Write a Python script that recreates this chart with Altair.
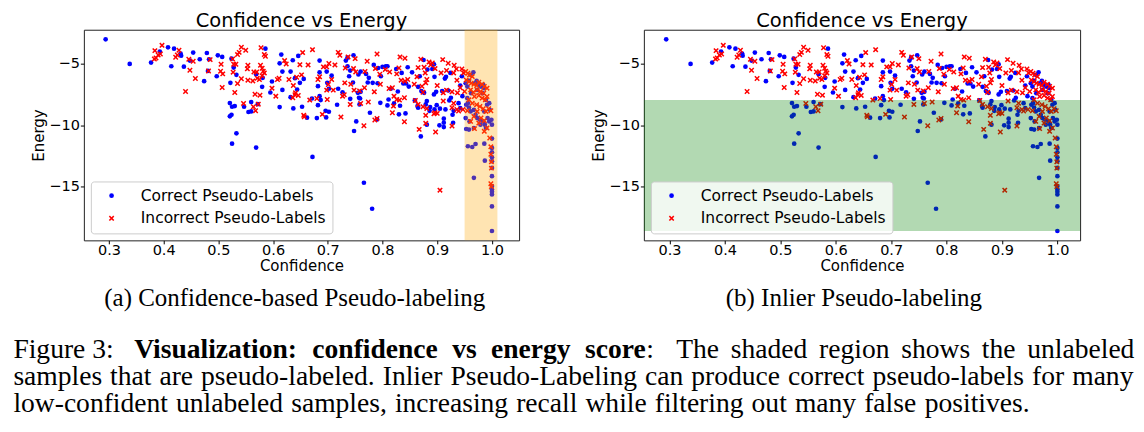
import altair as alt
import pandas as pd

# ---------------- data ----------------
labels = ["Correct Pseudo-Labels", "Incorrect Pseudo-Labels"]

correct_points = [
    (0.294, -3.01), (0.338, -5.01), (0.377, -4.90), (0.393, -4.01), (0.408, -3.66), (0.419, -3.77),
    (0.431, -4.17), (0.432, -4.34), (0.414, -5.20), (0.437, -5.23), (0.448, -4.74), (0.454, -4.09),
    (0.466, -4.63), (0.479, -4.12), (0.483, -4.63), (0.499, -4.31), (0.507, -4.44), (0.474, -6.41),
    (0.481, -5.58), (0.497, -6.01), (0.522, -6.55), (0.528, -5.31), (0.533, -5.90), (0.524, -4.58),
    (0.586, -3.77), (0.569, -5.85), (0.581, -6.14), (0.580, -6.87), (0.595, -7.33), (0.598, -6.44),
    (0.615, -4.25), (0.612, -4.96), (0.617, -5.63), (0.612, -8.52), (0.521, -8.19), (0.525, -8.49),
    (0.530, -8.44), (0.547, -8.49), (0.560, -8.11), (0.572, -8.28), (0.555, -8.92), (0.560, -8.87),
    (0.521, -9.27), (0.524, -9.14), (0.533, -10.65), (0.617, -7.12),
    (0.525, -11.49), (0.569, -11.81), (0.672, -12.57), (0.766, -14.67), (0.781, -16.78),
    (0.646, -4.36), (0.685, -4.74), (0.736, -4.50), (0.747, -4.31), (0.875, -4.69), (0.894, -5.04),
    (0.632, -5.63), (0.636, -4.71), (0.685, -5.69), (0.698, -5.63), (0.707, -5.96), (0.733, -4.74),
    (0.736, -5.20), (0.741, -5.55), (0.756, -5.87), (0.760, -5.63), (0.770, -5.82), (0.784, -5.09),
    (0.792, -5.34), (0.800, -5.25), (0.806, -5.20), (0.809, -5.20), (0.825, -5.42), (0.835, -5.74),
    (0.846, -5.28), (0.854, -5.69), (0.868, -6.01), (0.882, -5.47), (0.891, -5.42), (0.895, -6.06),
    (0.914, -6.20), (0.924, -5.74), (0.945, -6.01),
    (0.640, -6.17), (0.649, -6.55), (0.656, -6.23), (0.644, -7.09), (0.682, -6.82), (0.699, -6.55),
    (0.702, -7.03), (0.719, -7.03), (0.727, -7.31), (0.739, -6.01), (0.746, -6.52), (0.755, -7.36),
    (0.760, -7.28), (0.757, -7.76), (0.775, -6.14), (0.773, -6.52), (0.782, -6.55), (0.791, -6.58),
    (0.797, -6.01), (0.815, -7.03), (0.828, -7.25), (0.838, -6.60), (0.843, -6.60), (0.848, -6.85),
    (0.865, -6.87), (0.871, -7.22), (0.876, -7.36), (0.894, -7.49), (0.898, -7.28), (0.909, -7.22),
    (0.916, -6.06), (0.920, -7.17), (0.942, -6.77), (0.946, -7.63),
    (0.632, -7.71), (0.653, -8.49), (0.637, -8.63), (0.671, -7.82), (0.685, -7.63), (0.682, -8.36),
    (0.687, -7.95), (0.696, -8.82), (0.702, -8.90), (0.717, -8.33), (0.741, -7.85), (0.759, -7.82),
    (0.758, -8.30), (0.777, -8.98), (0.796, -8.17), (0.811, -7.90), (0.809, -8.38), (0.821, -8.22),
    (0.832, -8.41), (0.830, -9.11), (0.842, -9.03), (0.859, -7.98), (0.864, -8.44), (0.865, -8.57),
    (0.879, -8.30), (0.881, -8.03), (0.886, -8.82), (0.887, -8.52), (0.895, -8.71), (0.899, -8.36),
    (0.905, -8.65), (0.915, -8.71), (0.922, -7.98), (0.925, -7.76), (0.930, -8.82), (0.939, -8.20),
    (0.942, -8.60), (0.662, -9.38), (0.680, -9.41), (0.697, -9.36), (0.790, -9.52), (0.928, -9.14),
    (0.912, -9.46), (0.752, -9.68), (0.748, -10.46), (0.929, -9.79), (0.912, -9.79), (0.912, -10.14),
    (0.870, -10.90), (0.881, -9.95), (0.904, -10.00),
    (0.952, -6.58), (0.955, -6.85), (0.958, -6.39), (0.961, -5.90), (0.966, -5.69), (0.969, -6.58),
    (0.972, -6.39), (0.976, -6.71), (0.973, -7.12), (0.980, -6.85), (0.984, -6.71), (0.986, -6.98),
    (0.983, -7.39), (0.989, -7.93), (0.991, -8.33), (0.955, -7.79), (0.956, -8.20), (0.958, -8.55),
    (0.961, -8.87), (0.952, -9.41), (0.967, -8.74), (0.970, -9.14), (0.973, -9.41), (0.978, -9.55),
    (0.984, -9.68), (0.987, -9.95), (0.992, -9.41), (0.995, -9.68), (0.989, -10.22), (0.979, -9.95),
    (0.967, -10.22), (0.958, -10.35), (0.999, -9.55), (1.000, -9.95), (0.953, -8.33), (0.962, -7.39),
    (0.959, -9.68), (0.953, -10.30), (0.996, -8.74), (0.995, -8.20), (0.986, -8.87),
    (0.956, -11.70), (0.964, -11.76), (0.970, -11.52), (0.967, -14.27), (0.986, -11.49), (0.987, -12.87),
    (1.000, -11.08), (1.000, -11.84), (1.000, -12.19), (1.000, -12.60), (1.000, -12.92), (1.000, -13.46),
    (1.000, -14.13), (1.000, -14.94), (1.000, -15.21), (1.000, -15.40), (1.000, -15.62), (1.000, -16.59),
    (1.000, -18.59),
]

incorrect_points = [
    (0.397, -3.50), (0.384, -3.93), (0.394, -4.20), (0.390, -4.28), (0.386, -4.52), (0.383, -4.61),
    (0.428, -3.90), (0.425, -4.28), (0.422, -4.47), (0.440, -7.25), (0.448, -5.52), (0.458, -6.20),
    (0.446, -4.63), (0.454, -4.79), (0.485, -4.66), (0.482, -5.58), (0.505, -5.04), (0.504, -5.60),
    (0.508, -5.82), (0.507, -6.93), (0.526, -4.61), (0.528, -5.04), (0.532, -5.04), (0.535, -4.25),
    (0.538, -4.07), (0.542, -3.66), (0.550, -3.90), (0.527, -5.68), (0.535, -6.60), (0.530, -7.33),
    (0.542, -6.22), (0.554, -5.12), (0.553, -5.41), (0.565, -5.66), (0.570, -5.66), (0.554, -6.33),
    (0.563, -6.39), (0.571, -6.17), (0.578, -3.69), (0.586, -4.39), (0.584, -4.25), (0.577, -5.12),
    (0.580, -5.36), (0.582, -5.60), (0.584, -5.74), (0.580, -5.98), (0.575, -6.28), (0.567, -7.47),
    (0.576, -7.55), (0.605, -7.63), (0.598, -6.98), (0.608, -6.28), (0.611, -6.17), (0.546, -8.22),
    (0.564, -8.49), (0.568, -8.82), (0.573, -8.28),
    (0.654, -4.09), (0.672, -3.85), (0.719, -4.07), (0.722, -4.31), (0.737, -4.44), (0.750, -4.58),
    (0.790, -4.20), (0.832, -4.44), (0.841, -4.55), (0.870, -4.63), (0.885, -4.85), (0.891, -4.93),
    (0.910, -4.66), (0.920, -4.96), (0.931, -5.12),
    (0.621, -4.74), (0.624, -5.01), (0.649, -5.07), (0.664, -5.09), (0.692, -5.25), (0.698, -5.25),
    (0.702, -4.98), (0.713, -5.09), (0.732, -5.34), (0.747, -5.39), (0.751, -5.66), (0.768, -5.63),
    (0.772, -4.79), (0.787, -5.39), (0.795, -5.85), (0.805, -5.47), (0.813, -5.66), (0.830, -5.34),
    (0.826, -5.82), (0.846, -6.28), (0.865, -5.31), (0.876, -5.28), (0.888, -5.09), (0.878, -5.74),
    (0.896, -5.39), (0.907, -5.74), (0.917, -5.55), (0.935, -5.42), (0.930, -5.74), (0.945, -5.42),
    (0.948, -5.74),
    (0.629, -6.28), (0.643, -6.09), (0.652, -5.90), (0.637, -6.77), (0.641, -7.36), (0.640, -7.52),
    (0.636, -7.76), (0.646, -7.57), (0.685, -6.06), (0.682, -6.28), (0.707, -6.28), (0.701, -6.68),
    (0.698, -7.14), (0.710, -7.14), (0.731, -6.55), (0.742, -6.66), (0.748, -7.14), (0.727, -7.63),
    (0.730, -7.52), (0.767, -6.95), (0.785, -7.28), (0.758, -7.20), (0.796, -6.66), (0.818, -6.95),
    (0.812, -7.01), (0.821, -7.63), (0.834, -6.33), (0.841, -6.41), (0.863, -6.06), (0.858, -6.66),
    (0.872, -6.82), (0.879, -6.55), (0.874, -7.31), (0.881, -6.28), (0.900, -6.77), (0.911, -7.36),
    (0.917, -7.14), (0.927, -7.28), (0.937, -7.36), (0.942, -6.95), (0.936, -6.33),
    (0.667, -7.95), (0.680, -7.82), (0.699, -7.90), (0.741, -8.30), (0.760, -8.22), (0.774, -8.11),
    (0.786, -9.57), (0.790, -9.44), (0.818, -8.98), (0.826, -7.90), (0.831, -7.95), (0.840, -7.76),
    (0.820, -8.44), (0.860, -7.98), (0.865, -8.30), (0.874, -8.49), (0.881, -8.63), (0.896, -8.98),
    (0.900, -9.03), (0.911, -8.03), (0.927, -8.57), (0.930, -8.20), (0.936, -8.71), (0.939, -8.84),
    (0.947, -8.71), (0.656, -9.19), (0.657, -9.30), (0.690, -9.11), (0.724, -9.33), (0.879, -9.19),
    (0.894, -9.06), (0.766, -10.03), (0.840, -9.71), (0.867, -10.33), (0.879, -9.84), (0.897, -10.54),
    (0.927, -10.06), (0.905, -15.27),
    (0.952, -5.63), (0.956, -5.77), (0.959, -5.90), (0.964, -6.04), (0.953, -6.31), (0.958, -6.44),
    (0.962, -6.58), (0.967, -6.66), (0.972, -6.77), (0.976, -6.50), (0.982, -6.66), (0.986, -6.85),
    (0.991, -6.98), (0.973, -7.12), (0.979, -7.25), (0.985, -7.39), (0.976, -7.57), (0.982, -7.79),
    (0.988, -7.93), (0.991, -7.66), (0.961, -7.12), (0.966, -7.31), (0.968, -7.66), (0.958, -7.93),
    (0.964, -8.20), (0.972, -8.33), (0.978, -8.47), (0.984, -8.65), (0.989, -8.87), (0.994, -8.65),
    (0.973, -8.87), (0.967, -9.28), (0.980, -9.41), (0.986, -9.63), (0.976, -9.82), (0.991, -10.22),
    (0.968, -10.27), (0.996, -11.03), (0.998, -8.82), (0.986, -10.49), (0.955, -8.82), (0.950, -7.25),
    (0.961, -9.68),
    (0.998, -11.75), (0.998, -12.35), (0.999, -12.97), (0.999, -13.48), (0.998, -14.75), (0.999, -14.97),
]

x_ticks = [0.3, 0.4, 0.5, 0.6, 0.7, 0.8, 0.9, 1.0]
y_ticks = [-15, -10, -5]
band_a_conf = [0.95, 1.01]          # confidence-based region
band_b_energy = [-7.95, -18.6]      # inlier (energy) region

panel_title = "Confidence vs Energy"
subtitle_a = "(a) Confidence-based Pseudo-labeling"
subtitle_b = "(b) Inlier Pseudo-labeling"
caption_line1_bold = ["Visualization:", "confidence", "vs", "energy", "score"]
caption_line1_tail = ["The", "shaded", "region", "shows", "the", "unlabeled"]
caption_line2 = ["samples", "that", "are", "pseudo-labeled.", "Inlier", "Pseudo-Labeling", "can",
                 "produce", "correct", "pseudo-labels", "for", "many"]
caption_line3 = ["low-confident", "unlabeled", "samples,", "increasing", "recall", "while",
                 "filtering", "out", "many", "false", "positives."]

df = pd.DataFrame({
    "Confidence": [p[0] for p in correct_points] + [p[0] for p in incorrect_points],
    "Energy": [p[1] for p in correct_points] + [p[1] for p in incorrect_points],
    "label": [labels[0]] * len(correct_points) + [labels[1]] * len(incorrect_points),
})

# ---------------- styling ----------------
X_PATH = ("M-1,-0.62L-0.62,-1L0,-0.38L0.62,-1L1,-0.62L0.38,0L1,0.62L0.62,1"
          "L0,0.38L-0.62,1L-1,0.62L-0.38,0Z")
PLOT_H = 211
Y_DOM = [-19.35, -2.23]
SANS = "DejaVu Sans"
SERIF = "Liberation Serif"


def make_legend():
    return alt.Legend(
        title=None, orient="bottom-left", offset=7, padding=6.5,
        fillColor="rgba(255,255,255,0.8)", strokeColor="#cccccc", cornerRadius=3,
        labelFont=SANS, labelFontSize=15.5, labelColor="black", labelLimit=400,
        symbolSize=22, symbolStrokeWidth=0, symbolOffset=6.5, labelOffset=21.5,
        rowPadding=5.7,
    )


def scatter(x_dom):
    return alt.Chart(df).mark_point(filled=True, opacity=1).encode(
        x=alt.X("Confidence:Q",
                scale=alt.Scale(domain=x_dom, nice=False, zero=False),
                axis=alt.Axis(values=x_ticks, format=".1f", title="Confidence",
                              labelPadding=0, titlePadding=1)),
        y=alt.Y("Energy:Q",
                scale=alt.Scale(domain=Y_DOM, nice=False, zero=False),
                axis=alt.Axis(values=y_ticks, format="d", title="Energy",
                              labelPadding=1, titlePadding=2.5)),
        color=alt.Color("label:N", scale=alt.Scale(domain=labels, range=["#0000ff", "#ff0000"]),
                        legend=make_legend()),
        shape=alt.Shape("label:N", scale=alt.Scale(domain=labels, range=["circle", X_PATH]),
                        legend=make_legend()),
        size=alt.Size("label:N", scale=alt.Scale(domain=labels, range=[22, 30]), legend=None),
    )


def title_mark(width):
    return alt.Chart(pd.DataFrame({"t": [panel_title]})).mark_text(
        font=SANS, fontSize=19.5, baseline="alphabetic", align="center", color="black").encode(
        text="t:N", x=alt.value(width / 2), y=alt.value(-2.3))


# panel (a)
band_a = alt.Chart(pd.DataFrame({"Confidence": [band_a_conf[0]],
                                 "Confidence2": [band_a_conf[1]]})).mark_rect(
    color="#ffa500", opacity=0.3).encode(
    x=alt.X("Confidence:Q", title="Confidence"), x2="Confidence2:Q",
    y=alt.value(0), y2=alt.value(PLOT_H))
panel_a = alt.layer(scatter([0.2542, 1.0496]), band_a, title_mark(436)).properties(
    width=436, height=PLOT_H)

# panel (b)
band_b = alt.Chart(pd.DataFrame({"Energy": [band_b_energy[0]],
                                 "Energy2": [band_b_energy[1]]})).mark_rect(
    color="#008000", opacity=0.3).encode(
    y=alt.Y("Energy:Q", title="Energy"), y2="Energy2:Q",
    x=alt.value(0), x2=alt.value(437))
panel_b = alt.layer(scatter([0.2537, 1.041]), band_b, title_mark(437)).properties(
    width=437, height=PLOT_H)

# ---------------- caption block (positions relative to panel (a) plot corner) ----------------
OX, OY = 82.6, 239.3
text_runs = []


def run(txt, px, baseline, weight="normal", align="left", size=27.6):
    text_runs.append(
        alt.Chart(pd.DataFrame({"t": [txt]})).mark_text(
            align=align, baseline="alphabetic", font=SERIF, fontSize=size,
            fontWeight=weight, color="black").encode(
            text="t:N", x=alt.value(px - OX), y=alt.value(baseline - OY)))


run(subtitle_a, 293.8, 305, align="center", size=25)
run(subtitle_b, 854, 305, align="center", size=25)
# line 1 (justified: words placed individually)
run("Figure 3:", 12, 357)
for w, px in zip(caption_line1_bold, [133, 311.5, 451.6, 490.5, 584.6]):
    run(w, px, 357, weight="bold")
run(":", 645.9, 357)
for w, px in zip(caption_line1_tail[:-1], [676, 730.7, 819.1, 901.4, 982.2]):
    run(w, px, 357)
run(caption_line1_tail[-1], 1135, 357, align="right")
# line 2 (justified)
for w, px in zip(caption_line2[:-1], [12, 108.9, 158.3, 200, 382, 449.8, 644.8, 691.1, 788,
                                      872.6, 1032.4]):
    run(w, px, 384)
run(caption_line2[-1], 1134, 384, align="right")
# line 3
for w, px in zip(caption_line3[:-1], [12, 174.9, 290.3, 394.2, 515.7, 585.1, 654.5, 751.5,
                                      794.9, 864.3]):
    run(w, px, 411)
run(caption_line3[-1], 1030, 411, align="right")

caption = alt.layer(*text_runs).properties(
    width=436, height=170, view=alt.ViewBackground(stroke="transparent"))

chart = alt.concat(
    panel_a, panel_b, caption, columns=2, bounds="flush",
    spacing={"row": 0, "column": 125},
    padding={"left": 4, "top": 2.4, "right": 1, "bottom": 2},
).resolve_scale(
    x="independent", y="independent", color="independent", shape="independent", size="independent"
).resolve_legend(
    color="independent", shape="independent"
).configure_view(
    stroke="#222222", strokeWidth=1
).configure_axis(
    grid=False, domain=False, tickColor="black", tickSize=3.5, tickWidth=1,
    labelFont=SANS, labelFontSize=14.5, labelColor="black",
    titleFont=SANS, titleFontSize=15, titleFontWeight="normal", titleColor="black",
)

chart.save("out.html", embed_options={"renderer": "svg", "actions": False})
